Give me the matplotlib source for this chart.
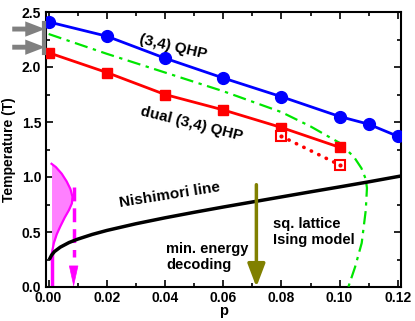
"""Phase diagram: (3,4) QHP thresholds vs. square-lattice Ising model."""

import matplotlib

matplotlib.use("Agg")
import matplotlib.pyplot as plt
from matplotlib.ticker import MultipleLocator, FormatStrFormatter

plt.rcParams["font.family"] = ["Liberation Sans", "DejaVu Sans"]
plt.rcParams["font.weight"] = "bold"

# (3,4) QHP
qhp_p = [0.00, 0.02, 0.04, 0.06, 0.08, 0.10, 0.11, 0.12]
qhp_t = [2.41, 2.28, 2.08, 1.90, 1.73, 1.55, 1.48, 1.37]

# dual (3,4) QHP
dual_p = [0.00, 0.02, 0.04, 0.06, 0.08, 0.10]
dual_t = [2.13, 1.95, 1.75, 1.61, 1.45, 1.27]
dual_open_p = [0.08, 0.09, 0.10]
dual_open_t = [1.37, 1.24, 1.11]
dual_open_marks_p = [0.08, 0.10]
dual_open_marks_t = [1.37, 1.11]

# square lattice Ising model boundary
ising_p = [0.0, 0.02, 0.04, 0.06, 0.08, 0.09, 0.10, 0.105, 0.1075, 0.109, 0.1094, 0.109, 0.1076, 0.1053, 0.103]
ising_t = [2.30, 2.12, 1.95, 1.78, 1.59, 1.46, 1.31, 1.18, 1.08, 0.98, 0.90, 0.70, 0.40, 0.18, 0.0]

# Nishimori line
nish_p = [0.0005, 0.001, 0.002, 0.004, 0.007, 0.01, 0.015, 0.02, 0.03, 0.04, 0.05,
          0.06, 0.07, 0.08, 0.09, 0.10, 0.11, 0.12, 0.123]
nish_t = [0.263, 0.289, 0.322, 0.362, 0.404, 0.435, 0.478, 0.514, 0.575, 0.629, 0.679,
          0.727, 0.773, 0.819, 0.865, 0.910, 0.956, 1.004, 1.018]

# magenta distribution near p = 0
dist_base_p = 0.001
dist_t = [1.12, 1.09, 1.03, 0.96, 0.89, 0.82, 0.76, 0.70, 0.63, 0.55, 0.48, 0.40, 0.32, 0.25]
dist_p = [0.001, 0.0025, 0.0045, 0.0062, 0.0075, 0.0082, 0.0080, 0.0070, 0.0055, 0.0040,
          0.0028, 0.0018, 0.0012, 0.001]
dist_stem_t = [0.0, 0.30]
dash_p = 0.0086
dash_t = [0.91, 0.27]
dash_head_t = [0.17, 0.0]

min_energy_p = 0.0714
min_energy_t = [0.93, 0.0]

# Ising critical temperature range marks on the T axis
ising_tc_marks = [2.345, 2.18]
ising_tc_bar = [2.13, 2.40]

fig = plt.figure(figsize=(4.15, 3.21), dpi=100)
ax = fig.add_axes([46 / 415, 1 - 287 / 321, 355 / 415, 275 / 321])

ax.plot(qhp_p, qhp_t, color="#0000ff", lw=2, marker="o", ms=8.5, zorder=5)
ax.plot(dual_p, dual_t, color="#ff0000", lw=2, marker="s", ms=7.5, zorder=5)
ax.plot(dual_open_p, dual_open_t, color="#ff0000", lw=2.6, linestyle=(0, (0.1, 2.2)),
        dash_capstyle="round", zorder=4)
ax.plot(dual_open_marks_p, dual_open_marks_t, linestyle="none", marker="s", ms=7.5,
        mfc="white", mec="#ff0000", mew=1.5, zorder=6)
ax.plot(dual_open_marks_p, dual_open_marks_t, linestyle="none", marker="o", ms=2,
        color="#ff0000", zorder=7)
ax.plot(ising_p, ising_t, color="#00e600", lw=1.6, linestyle=(0, (6, 2.5, 1.5, 2.5)), zorder=3)
ax.plot(nish_p, nish_t, color="black", lw=2.5, zorder=3)

ax.fill_betweenx(dist_t, dist_base_p, dist_p, color="#ff80ff", lw=0, zorder=2)
ax.plot(dist_p, dist_t, color="#ff00ff", lw=1.6, zorder=2)
ax.plot([dist_base_p, dist_base_p], dist_stem_t, color="#ff00ff", lw=2.5, zorder=2)
ax.plot([dash_p, dash_p], dash_t, color="#ff00ff", lw=2.5, linestyle=(0, (4, 2)), zorder=2)
ax.annotate("", xy=(dash_p, dash_head_t[1]), xytext=(dash_p, dash_head_t[0]),
            arrowprops=dict(arrowstyle="-|>,head_length=1.0,head_width=0.22", color="#ff00ff",
                            lw=0.5, mutation_scale=14, shrinkA=0, shrinkB=0), zorder=2)

ax.annotate("", xy=(min_energy_p, min_energy_t[1]), xytext=(min_energy_p, min_energy_t[0]),
            arrowprops=dict(arrowstyle="-|>,head_length=1.0,head_width=0.38", color="#808000",
                            lw=2.5, mutation_scale=14, shrinkA=0, shrinkB=0), zorder=4)

for t in ising_tc_marks:
    ax.annotate("", xy=(-0.0012, t), xytext=(-0.0125, t), annotation_clip=False,
                arrowprops=dict(arrowstyle="simple,head_length=1.3,tail_width=0.32,head_width=1.0",
                                color="#808080", lw=0, mutation_scale=11, shrinkA=0, shrinkB=0))
ax.plot([-0.0016, -0.0016], ising_tc_bar, color="#808080", lw=3.0, clip_on=False, zorder=6)

ax.text(0.0428, 2.18, "(3,4) QHP", rotation=-13, ha="center", va="center", fontsize=11)
ax.text(0.049, 1.48, "dual (3,4) QHP", rotation=-14, ha="center", va="center", fontsize=11)
ax.text(0.0415, 0.84, "Nishimori line", rotation=9, ha="center", va="center", fontsize=11)
ax.text(0.0405, 0.27, "min. energy\ndecoding", ha="left", va="center", fontsize=10.5,
        linespacing=1.15)
ax.text(0.077, 0.50, "sq. lattice\nIsing model", ha="left", va="center", fontsize=10.5,
        linespacing=1.15)

ax.set_xlim(-0.0009, 0.1211)
ax.set_ylim(0, 2.5)
ax.xaxis.set_major_locator(MultipleLocator(0.02))
ax.xaxis.set_minor_locator(MultipleLocator(0.01))
ax.xaxis.set_major_formatter(FormatStrFormatter("%.2f"))
ax.yaxis.set_major_locator(MultipleLocator(0.5))
ax.yaxis.set_minor_locator(MultipleLocator(0.25))
ax.yaxis.set_major_formatter(FormatStrFormatter("%.1f"))
ax.tick_params(which="both", direction="in", top=True, right=True, width=1.2, labelsize=10)
ax.tick_params(which="major", length=5)
ax.tick_params(which="minor", length=3)
ax.tick_params(axis="x", pad=3)
for spine in ax.spines.values():
    spine.set_linewidth(1.5)
ax.set_xlabel("p", fontsize=10.5, fontweight="bold", labelpad=-1)
ax.set_ylabel("Temperature (T)", fontsize=10, fontweight="bold", labelpad=4)

fig.savefig("out.png", dpi=100)
